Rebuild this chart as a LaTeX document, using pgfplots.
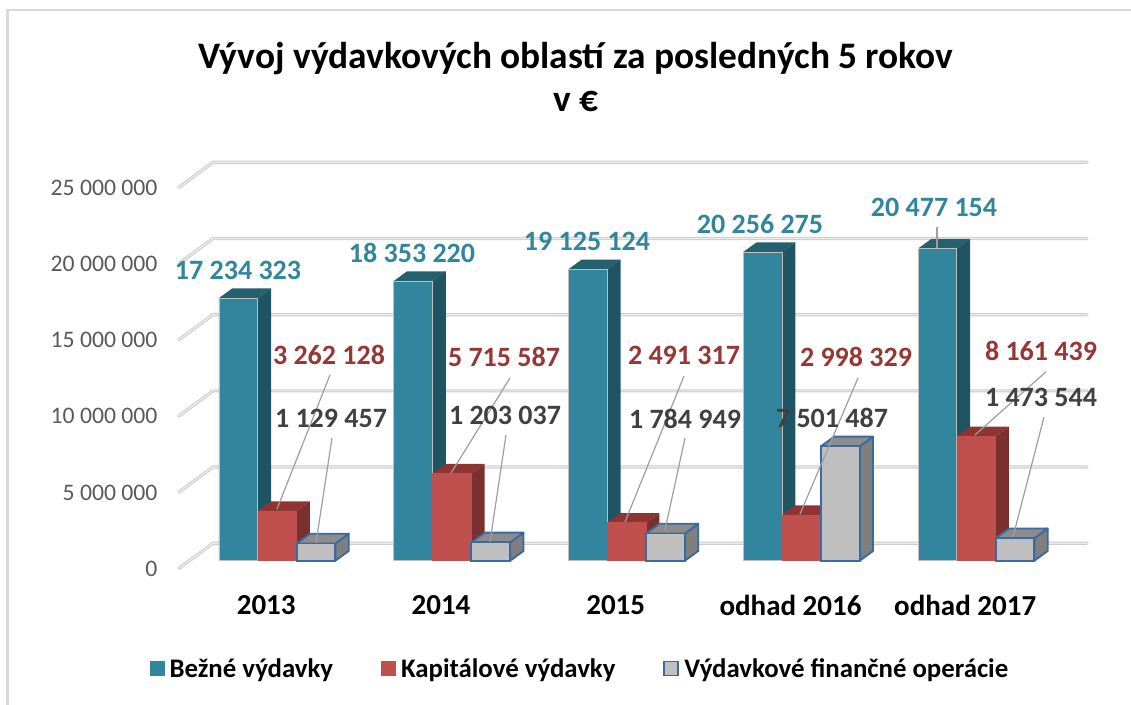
\documentclass[border=0pt]{standalone}
\usepackage{pgfplots}
\pgfplotsset{compat=1.18}
\usepackage{fontspec}
\setmainfont{Carlito}
\definecolor{tealF}{HTML}{31859C}\definecolor{tealT}{HTML}{25606F}\definecolor{tealS}{HTML}{1F5563}
\definecolor{redF}{HTML}{C0504D}\definecolor{redT}{HTML}{8F3432}\definecolor{redS}{HTML}{7A302E}
\definecolor{grayF}{HTML}{BFBFBF}\definecolor{grayT}{HTML}{8C8C8C}\definecolor{grayS}{HTML}{7F7F7F}
\definecolor{blueE}{HTML}{3B6AA0}\definecolor{lblT}{HTML}{31859C}\definecolor{lblR}{HTML}{953735}\definecolor{lblG}{HTML}{404040}
% depth faces of a bar: centre x, value, top colour, side colour, edge style
\newcommand\Depth[5]{%
  \edef\xl{\fpeval{#1-19.4}}\edef\xr{\fpeval{#1+19.4}}%
  \edef\xb{\fpeval{#1-19.4+13.3}}\edef\xc{\fpeval{#1+19.4+13.3}}%
  \edef\yt{\fpeval{#2+637000}}%
  \addplot[fill=#4,#5,forget plot] coordinates {(\xr,0) (\xc,637000) (\xc,\yt) (\xr,#2) (\xr,0)};
  \addplot[fill=#3,#5,forget plot] coordinates {(\xl,#2) (\xb,\yt) (\xc,\yt) (\xr,#2) (\xl,#2)};
}
\newcommand\Grid[1]{%
  \edef\ya{\fpeval{#1-500000}}\edef\yb{\fpeval{#1+1142000}}%
  \addplot[color=black!20,line width=3.2pt,line cap=round,line join=round,forget plot] coordinates {(179,\ya) (213,\yb) (1087,\yb)};
  \addplot[color=black!7,line width=1.2pt,line cap=round,line join=round,forget plot] coordinates {(179,\ya) (213,\yb) (1087,\yb)};
}
\newcommand\Lead[4]{\addplot[color=black!38,line width=1.2pt,forget plot] coordinates {(#1,#2) (#3,#4)};}
\newcommand\Lbl[4]{\node[text=#3,font=\fontsize{28}{30}\selectfont\bfseries,inner sep=0pt] at (axis cs:#1,#2) {#4};}
\begin{document}
\begin{tikzpicture}
\path[use as bounding box] (-179pt,-135.7pt) rectangle (952pt,568.3pt);
\draw[black!15,line width=2.2pt] (-171.5pt,-140pt) -- (-171.5pt,558.3pt) -- (956pt,558.3pt);
\begin{axis}[
  at={(0,0)},anchor=south west,scale only axis,width=908pt,height=406pt,
  xmin=179,xmax=1087,ymin=-500000,ymax=26142000,clip=false,
  axis line style={draw=none},major tick length=0pt,
  xtick={277.2,452,626.7,801.5,976.2},
  xticklabels={2013,2014,2015,odhad 2016,odhad 2017},
  ytick={0,5000000,10000000,15000000,20000000,25000000},
  yticklabels={0,5 000 000,10 000 000,15 000 000,20 000 000,25 000 000},
  scaled y ticks=false,
  xticklabel style={font=\fontsize{29}{32}\selectfont\bfseries,text=black,xshift=-11pt,yshift=-23.5pt},
  yticklabel style={font=\fontsize{23.7}{26}\selectfont,text=black!65,xshift=-18pt,yshift=-8pt},
  title={Vývoj výdavkových oblastí za posledných 5 rokov\\v €},
  title style={font=\fontsize{37.4}{43}\selectfont\bfseries,align=center,at={(0.437,1)},anchor=south,yshift=41pt},
  legend columns=3,
  legend style={at={(0.4416,-0.248)},anchor=center,draw=none,fill=none,font=\fontsize{26.8}{30}\selectfont\bfseries,
    /tikz/every odd column/.style={column sep=3.5pt},
    /tikz/every even column/.style={column sep=46pt}},
  legend image code/.code={\draw[#1] (0pt,-6.5pt) rectangle (14pt,7.5pt);},
]
\addlegendimage{fill=tealF,draw=tealF}\addlegendentry{Bežné výdavky}
\addlegendimage{fill=redF,draw=redF}\addlegendentry{Kapitálové výdavky}
\addlegendimage{fill=grayF,draw=blueE,line width=1.4pt}\addlegendentry{Výdavkové finančné operácie}

\Grid{0}\Grid{5000000}\Grid{10000000}\Grid{15000000}\Grid{20000000}\Grid{25000000}

% Bežné výdavky
\Depth{238.4}{17234323}{tealT}{tealS}{draw=none}
\Depth{413.2}{18353220}{tealT}{tealS}{draw=none}
\Depth{587.9}{19125124}{tealT}{tealS}{draw=none}
\Depth{762.7}{20256275}{tealT}{tealS}{draw=none}
\Depth{937.4}{20477154}{tealT}{tealS}{draw=none}
\addplot[ybar,bar width=38.8pt,fill=tealF,draw=black!25,line width=.7pt,forget plot] coordinates
 {(238.4,17234323) (413.2,18353220) (587.9,19125124) (762.7,20256275) (937.4,20477154)};
% Kapitálové výdavky
\Depth{277.2}{3262128}{redT}{redS}{draw=none}
\Depth{452}{5715587}{redT}{redS}{draw=none}
\Depth{626.7}{2491317}{redT}{redS}{draw=none}
\Depth{801.5}{2998329}{redT}{redS}{draw=none}
\Depth{976.2}{8161439}{redT}{redS}{draw=none}
\addplot[ybar,bar width=38.8pt,fill=redF,draw=redF,line width=.5pt,forget plot] coordinates
 {(277.2,3262128) (452,5715587) (626.7,2491317) (801.5,2998329) (976.2,8161439)};
% Výdavkové finančné operácie
\Depth{316}{1129457}{grayT}{grayS}{draw=blueE,line width=1.9pt,line join=round}
\Depth{490.8}{1203037}{grayT}{grayS}{draw=blueE,line width=1.9pt,line join=round}
\Depth{665.5}{1784949}{grayT}{grayS}{draw=blueE,line width=1.9pt,line join=round}
\Depth{840.3}{7501487}{grayT}{grayS}{draw=blueE,line width=1.9pt,line join=round}
\Depth{1015}{1473544}{grayT}{grayS}{draw=blueE,line width=1.9pt,line join=round}
\addplot[ybar,bar width=38.8pt,fill=grayF,draw=blueE,line width=1.9pt,forget plot] coordinates
 {(316,1129457) (490.8,1203037) (665.5,1784949) (840.3,7501487) (1015,1473544)};

% leader lines
\Lead{330}{12190000}{277}{3390000}
\Lead{332}{8050000}{316}{1160000}
\Lead{510}{11990000}{451}{5750000}
\Lead{506}{8250000}{490}{1230000}
\Lead{684}{12120000}{625}{2540000}
\Lead{685}{8050000}{665}{2010000}
\Lead{858}{11990000}{800}{3060000}
\Lead{1046}{12400000}{975}{8250000}
\Lead{1044}{9430000}{1013}{1560000}
\Lead{937}{21900000}{937}{20500000}

% data labels
\Lbl{238}{19070000}{lblT}{17 234 323}
\Lbl{412}{20190000}{lblT}{18 353 220}
\Lbl{587}{20980000}{lblT}{19 125 124}
\Lbl{760}{22090000}{lblT}{20 256 275}
\Lbl{934}{23210000}{lblT}{20 477 154}
\Lbl{329}{13500000}{lblR}{3 262 128}
\Lbl{504}{13370000}{lblR}{5 715 587}
\Lbl{684}{13500000}{lblR}{2 491 317}
\Lbl{856}{13370000}{lblR}{2 998 329}
\Lbl{1041}{13760000}{lblR}{8 161 439}
\Lbl{331}{9360000}{lblG}{1 129 457}
\Lbl{505}{9560000}{lblG}{1 203 037}
\Lbl{685}{9300000}{lblG}{1 784 949}
\Lbl{832}{9360000}{lblG}{7 501 487}
\Lbl{1041}{10740000}{lblG}{1 473 544}
\end{axis}
\end{tikzpicture}
\end{document}
